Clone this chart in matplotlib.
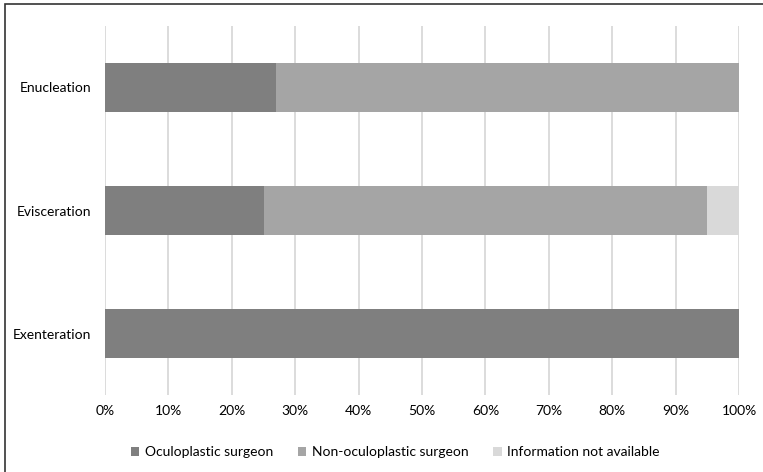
import matplotlib.pyplot as plt
from matplotlib.patches import Rectangle

plt.rcParams['font.family'] = ['Lato', 'DejaVu Sans']

procedures = ['Exenteration', 'Evisceration', 'Enucleation']
oculoplastic = [100, 25, 27]
non_oculoplastic = [0, 70, 73]
not_available = [0, 5, 0]

series = [
    ('Oculoplastic surgeon', oculoplastic, '#7f7f7f'),
    ('Non-oculoplastic surgeon', non_oculoplastic, '#a5a5a5'),
    ('Information not available', not_available, '#d9d9d9'),
]

fig = plt.figure(figsize=(7.63, 4.72), dpi=100)
ax = fig.add_axes([0.1376, 0.163, 0.831, 0.782])

left = [0] * len(procedures)
for name, vals, color in series:
    ax.barh(procedures, vals, left=left, height=0.4, color=color, label=name, zorder=2)
    left = [a + b for a, b in zip(left, vals)]

ax.set_xlim(0, 100)
ax.set_ylim(-0.5, 2.5)
ax.set_xticks(range(0, 101, 10))
ax.set_xticklabels([f'{t}%' for t in range(0, 101, 10)])
ax.grid(axis='x', color='#d9d9d9', linewidth=1.3, zorder=0)
ax.tick_params(length=0, labelsize=10, colors='#000000', pad=7)
ax.tick_params(axis='y', pad=10)
for s in ax.spines.values():
    s.set_visible(False)

fig.legend(loc='center', bbox_to_anchor=(0.518, 0.042), ncol=3, frameon=False,
           fontsize=10, handlelength=0.6, handleheight=0.6, columnspacing=1.8,
           handletextpad=0.4)

# outer frame, running past the right and bottom edges
fig.patches.append(Rectangle((5 / 763, -0.1), 1.2, 1 - 4 / 472 + 0.1,
                             transform=fig.transFigure, fill=False,
                             edgecolor='#333333', linewidth=1.2))

fig.savefig('out.png', dpi=100)
